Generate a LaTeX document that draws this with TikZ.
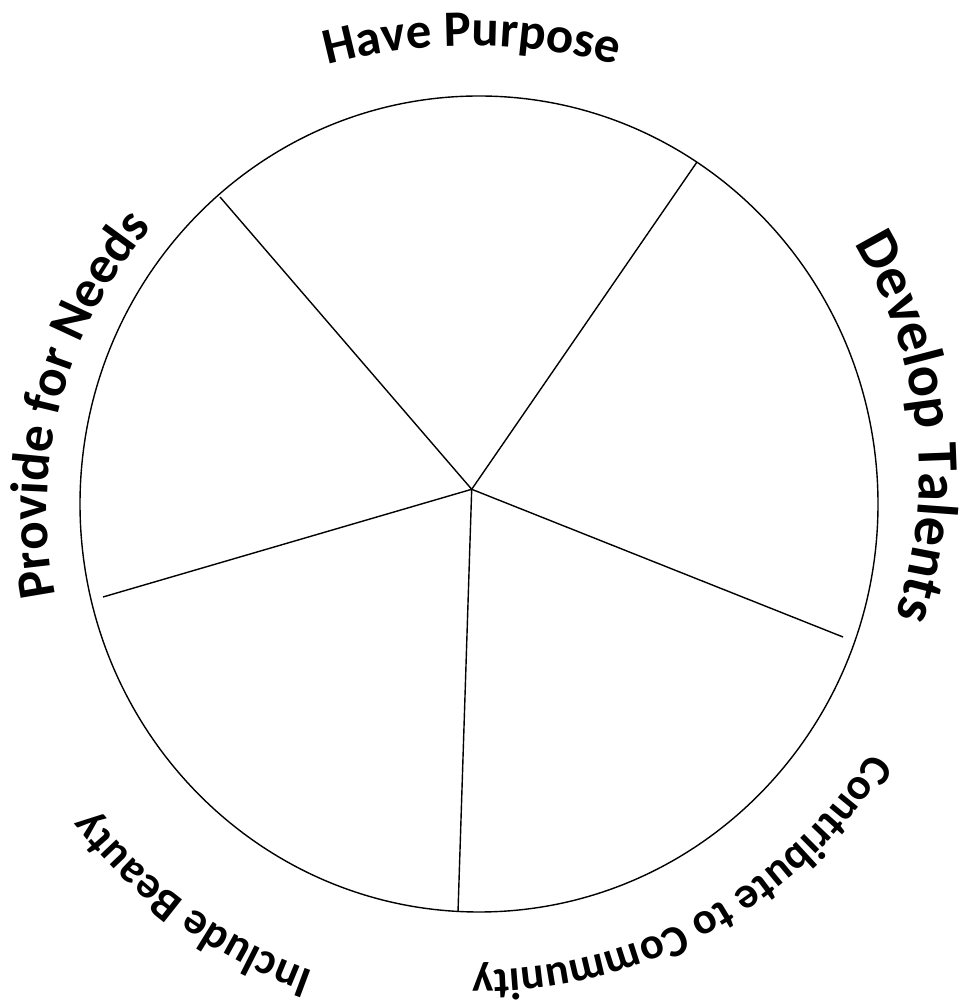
\documentclass[tikz,border=0pt]{standalone}
\usepackage{fontspec}
\setmainfont{Carlito}
\usetikzlibrary{decorations.text}
\newcommand\fHP{\bfseries\fontsize{51pt}{60pt}\selectfont}
\newcommand\fDT{\bfseries\fontsize{58pt}{68pt}\selectfont}
\newcommand\fPN{\bfseries\fontsize{53pt}{63pt}\selectfont}
\newcommand\fCC{\bfseries\fontsize{44.5pt}{50pt}\selectfont}
\newcommand\fIB{\bfseries\fontsize{45pt}{50pt}\selectfont}
\tikzset{
  rim/.style={draw=black, line width=1.4pt},
  spoke/.style={draw=black, line width=1.4pt},
  arclabel/.style={decorate, decoration={text along path, text align=center, #1}}
}
\begin{document}
\begin{tikzpicture}[x=1pt,y=1pt]
\useasboundingbox (0,0) rectangle (963,1006);
% wheel
\draw[rim] (479,502) ellipse [x radius=399, y radius=408];
\coordinate (hub) at (471.7,516.7);
\coordinate (e1) at (697,844);
\coordinate (e2) at (843,369);
\coordinate (e3) at (458,94);
\coordinate (e4) at (103,409);
\coordinate (e5) at (220,809);
\foreach \e in {e1,e2,e3,e4,e5} \draw[spoke] (hub) -- (\e);
% labels
\path[arclabel={text={|\fHP|Have Purpose}}]
  ([shift={(110:553)}]472,407) arc[start angle=110, end angle=70, radius=553];
\path[arclabel={text={|\fDT|Develop Talents}}]
  ([shift={(51.4:445)}]474,531) arc[start angle=51.4, end angle=-38.6, radius=445];
\path[arclabel={text={|\fPN|Provide for Needs}}]
  ([shift={(205.3:432)}]479,496) arc[start angle=205.3, end angle=125.3, radius=432];
\path[arclabel={text={|\fCC|Contribute to Community}}]
  ([shift={(-21.3:460)}]479,496) arc[start angle=-21.3, end angle=-101.3, radius=460];
\path[arclabel={text={|\fIB|Include Beauty}}]
  ([shift={(274:490)}]479,496) arc[start angle=274, end angle=194, radius=490];
\end{tikzpicture}
\end{document}
